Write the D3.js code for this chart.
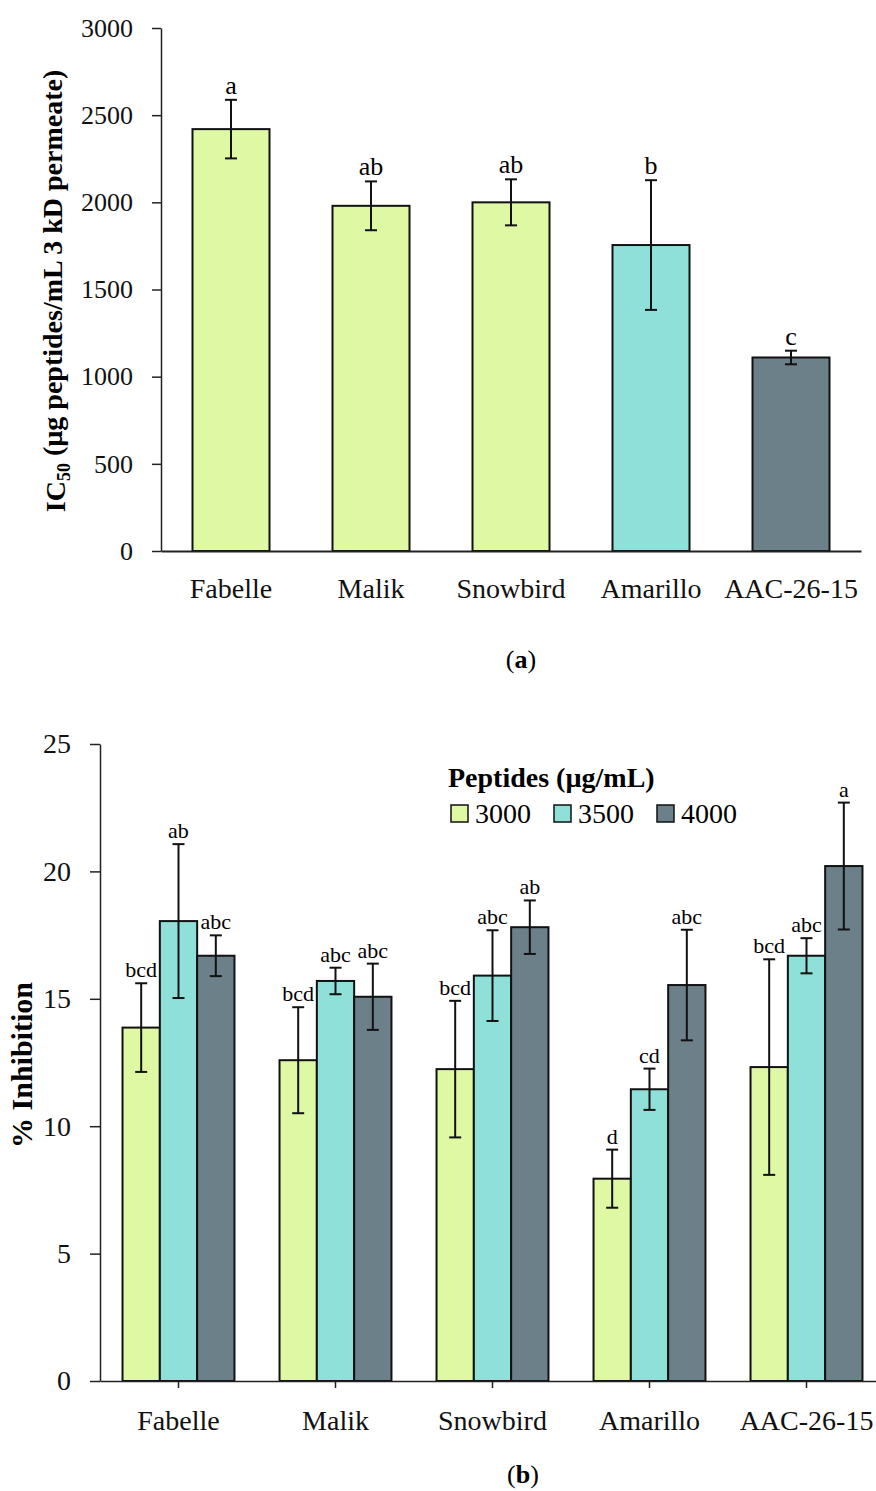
<!DOCTYPE html>
<html>
<head>
<meta charset="utf-8">
<script src="https://cdnjs.cloudflare.com/ajax/libs/d3/7.8.5/d3.min.js"></script>
<style>
  body { margin: 0; background: #fff; }
  svg { display: block; font-family: "Liberation Serif", "Times New Roman", serif; }
  .axis text { fill: #111; }
  .axis line, .axis path { stroke: #222; }
</style>
</head>
<body>
<div id="chart"></div>
<script>
// ---- data ----
var cultivars = ["Fabelle", "Malik", "Snowbird", "Amarillo", "AAC-26-15"];

// (a) IC50
var ic50 = [2420, 1980, 2000, 1755, 1110];
var ic50Err = [168, 140, 132, 372, 39];
var ic50Letters = ["a", "ab", "ab", "b", "c"];
var ic50Shade = [0, 0, 0, 1, 2];
var ic50Ticks = [0, 500, 1000, 1500, 2000, 2500, 3000];

// (b) % inhibition by peptide concentration
var doses = ["3000", "3500", "4000"];
var inhib3000 = [13.87, 12.59, 12.24, 7.94, 12.32];
var inhib3500 = [18.05, 15.70, 15.91, 11.45, 16.69];
var inhib4000 = [16.69, 15.08, 17.81, 15.54, 20.21];
var err3000 = [1.74, 2.08, 2.68, 1.14, 4.23];
var err3500 = [3.02, 0.52, 1.78, 0.81, 0.69];
var err4000 = [0.80, 1.30, 1.05, 2.17, 2.49];
var letters3000 = ["bcd", "bcd", "bcd", "d", "bcd"];
var letters3500 = ["ab", "abc", "abc", "cd", "abc"];
var letters4000 = ["abc", "abc", "ab", "abc", "a"];
var inhibTicks = [0, 5, 10, 15, 20, 25];

var colors = ["#dff8a3", "#8fe0d9", "#6c808a"];

var svg = d3.select("#chart").append("svg")
    .attr("width", 876)
    .attr("height", 1491);

function styleAxis(g, size) {
    g.attr("font-family", null).attr("font-size", null);
    g.selectAll(".tick line").attr("stroke-width", 1.5);
    g.selectAll("text").style("font-size", size + "px");
}

/****
 * (a) IC50 bar chart
 */
var xA = d3.scaleBand().domain(cultivars).range([161, 861]).padding(0);
var yA = d3.scaleLinear().domain([0, 3000]).range([551, 28]);
var barW = xA.bandwidth() * 0.55;

var gA = svg.append("g");

gA.append("g")
    .attr("class", "axis")
    .attr("transform", "translate(161,0)")
    .call(d3.axisLeft(yA).tickValues(ic50Ticks).tickFormat(d3.format("d"))
        .tickSize(9).tickSizeOuter(0).tickPadding(19))
    .call(function(g) {
        styleAxis(g, 26);
        g.select(".domain").attr("stroke-width", 1.5);
    });

gA.selectAll("rect.bar").data(cultivars).enter().append("rect")
    .attr("class", "bar")
    .attr("x", function(d) { return xA(d) + (xA.bandwidth() - barW) / 2; })
    .attr("y", function(d, i) { return yA(ic50[i]); })
    .attr("width", barW)
    .attr("height", function(d, i) { return yA(0) - yA(ic50[i]); })
    .attr("fill", function(d, i) { return colors[ic50Shade[i]]; })
    .attr("stroke", "#111")
    .attr("stroke-width", 2);

drawErrors(gA, cultivars.map(function(d, i) {
    return { x: xA(d) + xA.bandwidth() / 2, hi: yA(ic50[i] + ic50Err[i]), lo: yA(ic50[i] - ic50Err[i]), label: ic50Letters[i] };
}), 26);

gA.append("g")
    .attr("class", "axis")
    .attr("transform", "translate(0,551)")
    .call(d3.axisBottom(xA).tickSize(0).tickSizeOuter(0).tickPadding(27))
    .call(function(g) {
        styleAxis(g, 28);
        g.select(".domain").attr("stroke", "#111").attr("stroke-width", 2);
    });

var titleA = gA.append("text")
    .attr("transform", "translate(65,291) rotate(-90)")
    .attr("text-anchor", "middle")
    .style("font-size", "28px")
    .style("font-weight", "bold");
titleA.append("tspan").text("IC");
titleA.append("tspan").attr("dy", "0.3em").style("font-size", "18px").text("50");
titleA.append("tspan").attr("dy", "-0.3em").text(" (µg peptides/mL 3 kD permeate)");

var capA = svg.append("text")
    .attr("x", 521).attr("y", 668)
    .attr("text-anchor", "middle")
    .style("font-size", "26px");
capA.append("tspan").text("(");
capA.append("tspan").style("font-weight", "bold").text("a");
capA.append("tspan").text(")");

/****
 * (b) % inhibition grouped bars
 */
var xB = d3.scaleBand().domain(cultivars).range([100, 885]).padding(0);
var groupW = xB.bandwidth() * 0.713;
var xSub = d3.scaleBand().domain(doses).range([0, groupW]);
var yB = d3.scaleLinear().domain([0, 25]).range([1381, 744]);

var series = [
    { dose: "3000", values: inhib3000, err: err3000, letters: letters3000 },
    { dose: "3500", values: inhib3500, err: err3500, letters: letters3500 },
    { dose: "4000", values: inhib4000, err: err4000, letters: letters4000 }
];

var gB = svg.append("g");

gB.append("g")
    .attr("class", "axis")
    .attr("transform", "translate(100,0)")
    .call(d3.axisLeft(yB).tickValues(inhibTicks).tickSize(10).tickSizeOuter(0).tickPadding(19))
    .call(function(g) {
        styleAxis(g, 28);
        g.select(".domain").attr("stroke-width", 1.5);
    });

var groups = gB.selectAll("g.grp").data(series).enter().append("g").attr("class", "grp");

groups.each(function(s, si) {
    var g = d3.select(this);
    g.selectAll("rect").data(cultivars).enter().append("rect")
        .attr("x", function(d) { return xB(d) + (xB.bandwidth() - groupW) / 2 + xSub(s.dose); })
        .attr("y", function(d, i) { return yB(s.values[i]); })
        .attr("width", xSub.bandwidth())
        .attr("height", function(d, i) { return yB(0) - yB(s.values[i]); })
        .attr("fill", colors[si])
        .attr("stroke", "#111")
        .attr("stroke-width", 2);
});

series.forEach(function(s) {
    drawErrors(gB, cultivars.map(function(d, i) {
        var cx = xB(d) + (xB.bandwidth() - groupW) / 2 + xSub(s.dose) + xSub.bandwidth() / 2;
        return { x: cx, hi: yB(s.values[i] + s.err[i]), lo: yB(s.values[i] - s.err[i]), label: s.letters[i] };
    }), 22);
});

gB.append("g")
    .attr("class", "axis")
    .attr("transform", "translate(0,1381)")
    .call(d3.axisBottom(xB).tickSize(7).tickSizeOuter(0).tickPadding(22))
    .call(function(g) {
        styleAxis(g, 28);
        g.select(".domain").attr("stroke", "#222").attr("stroke-width", 1.5);
    });

gB.append("text")
    .attr("transform", "translate(32,1065) rotate(-90)")
    .attr("text-anchor", "middle")
    .style("font-size", "30px")
    .style("font-weight", "bold")
    .text("% Inhibition");

// legend
var legend = gB.append("g");
legend.append("text")
    .attr("x", 448).attr("y", 787)
    .style("font-size", "28px")
    .style("font-weight", "bold")
    .text("Peptides (µg/mL)");

var legX = d3.scaleOrdinal().domain(doses).range([451, 554, 657]);
var items = legend.selectAll("g.item").data(doses).enter().append("g").attr("class", "item");
items.append("rect")
    .attr("x", function(d) { return legX(d); })
    .attr("y", 805)
    .attr("width", 17).attr("height", 17)
    .attr("fill", function(d, i) { return colors[i]; })
    .attr("stroke", "#111")
    .attr("stroke-width", 1.5);
items.append("text")
    .attr("x", function(d) { return legX(d) + 24; })
    .attr("y", 823)
    .style("font-size", "28px")
    .text(function(d) { return d; });

var capB = svg.append("text")
    .attr("x", 523).attr("y", 1483)
    .attr("text-anchor", "middle")
    .style("font-size", "26px");
capB.append("tspan").text("(");
capB.append("tspan").style("font-weight", "bold").text("b");
capB.append("tspan").text(")");

function drawErrors(g, pts, fontSize) {
    var e = g.append("g");
    pts.forEach(function(p) {
        e.append("line").attr("x1", p.x).attr("x2", p.x).attr("y1", p.hi).attr("y2", p.lo);
        e.append("line").attr("x1", p.x - 6).attr("x2", p.x + 6).attr("y1", p.hi).attr("y2", p.hi);
        e.append("line").attr("x1", p.x - 6).attr("x2", p.x + 6).attr("y1", p.lo).attr("y2", p.lo);
        e.append("text")
            .attr("x", p.x).attr("y", p.hi - 6)
            .attr("text-anchor", "middle")
            .style("font-size", fontSize + "px")
            .text(p.label);
    });
    e.selectAll("line").attr("stroke", "#111").attr("stroke-width", 2);
}
</script>
</body>
</html>
